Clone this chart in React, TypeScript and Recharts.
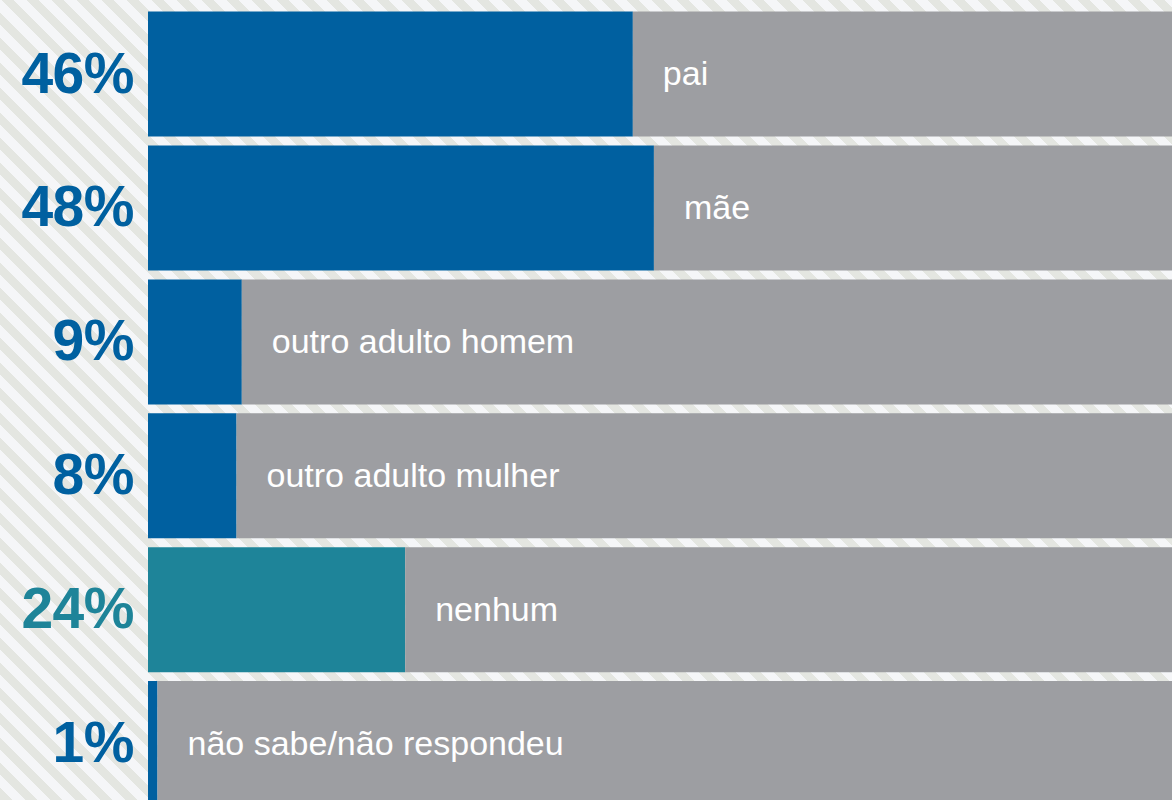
import { Bar, BarChart, Cell, LabelList, XAxis, YAxis } from "recharts";

const categories = [
  "pai",
  "mãe",
  "outro adulto homem",
  "outro adulto mulher",
  "nenhum",
  "não sabe/não respondeu",
];
// bar lengths as drawn; the printed labels are rounded
const shares = [46, 48, 8.9, 8.4, 24.4, 0.9];
const highlighted = ["nenhum"];

const BLUE = "#0060a0";
const TEAL = "#1e8499";
const GRAY = "#9d9ea2";
const FONT = "'Liberation Sans', Arial, Helvetica, sans-serif";

const rows = categories.map((name, i) => ({
  name,
  share: shares[i],
  rest: 100 - shares[i],
  color: highlighted.includes(name) ? TEAL : BLUE,
}));

function PctTick(props: any) {
  const { y, payload } = props;
  const row = rows[payload.index] ?? rows.find((r) => r.name === payload.value);
  return (
    <text
      x={134}
      y={y + 18}
      textAnchor="end"
      fill={row.color}
      fontFamily={FONT}
      fontWeight="bold"
      fontSize={57}
      letterSpacing={-0.5}
    >
      {Math.round(row.share)}%
    </text>
  );
}

function NameLabel(props: any) {
  const { x, y, height, value } = props;
  return (
    <text x={x + 30} y={y + height / 2 + 11} fill="#ffffff" fontFamily={FONT} fontSize={34}>
      {value}
    </text>
  );
}

export default function App() {
  return (
    <div
      style={{
        position: "fixed",
        left: 0,
        top: 0,
        width: 1172,
        height: 800,
        overflow: "hidden",
        background:
          "repeating-linear-gradient(45deg, #e4e6e1 0px, #e4e6e1 8.5px, #f5f6f8 8.5px, #f5f6f8 17.7px)",
      }}
    >
      <BarChart
        width={1202}
        height={811}
        data={rows}
        layout="vertical"
        margin={{ top: 7.6, right: 0, bottom: 0, left: 0 }}
        barSize={125}
      >
        <XAxis type="number" domain={[0, 100]} hide />
        <YAxis
          type="category"
          dataKey="name"
          width={148}
          axisLine={false}
          tickLine={false}
          tick={<PctTick />}
        />
        <Bar dataKey="share" stackId="a" isAnimationActive={false}>
          {rows.map((r) => (
            <Cell key={r.name} fill={r.color} />
          ))}
        </Bar>
        <Bar dataKey="rest" stackId="a" fill={GRAY} isAnimationActive={false}>
          <LabelList dataKey="name" content={<NameLabel />} />
        </Bar>
      </BarChart>
    </div>
  );
}
